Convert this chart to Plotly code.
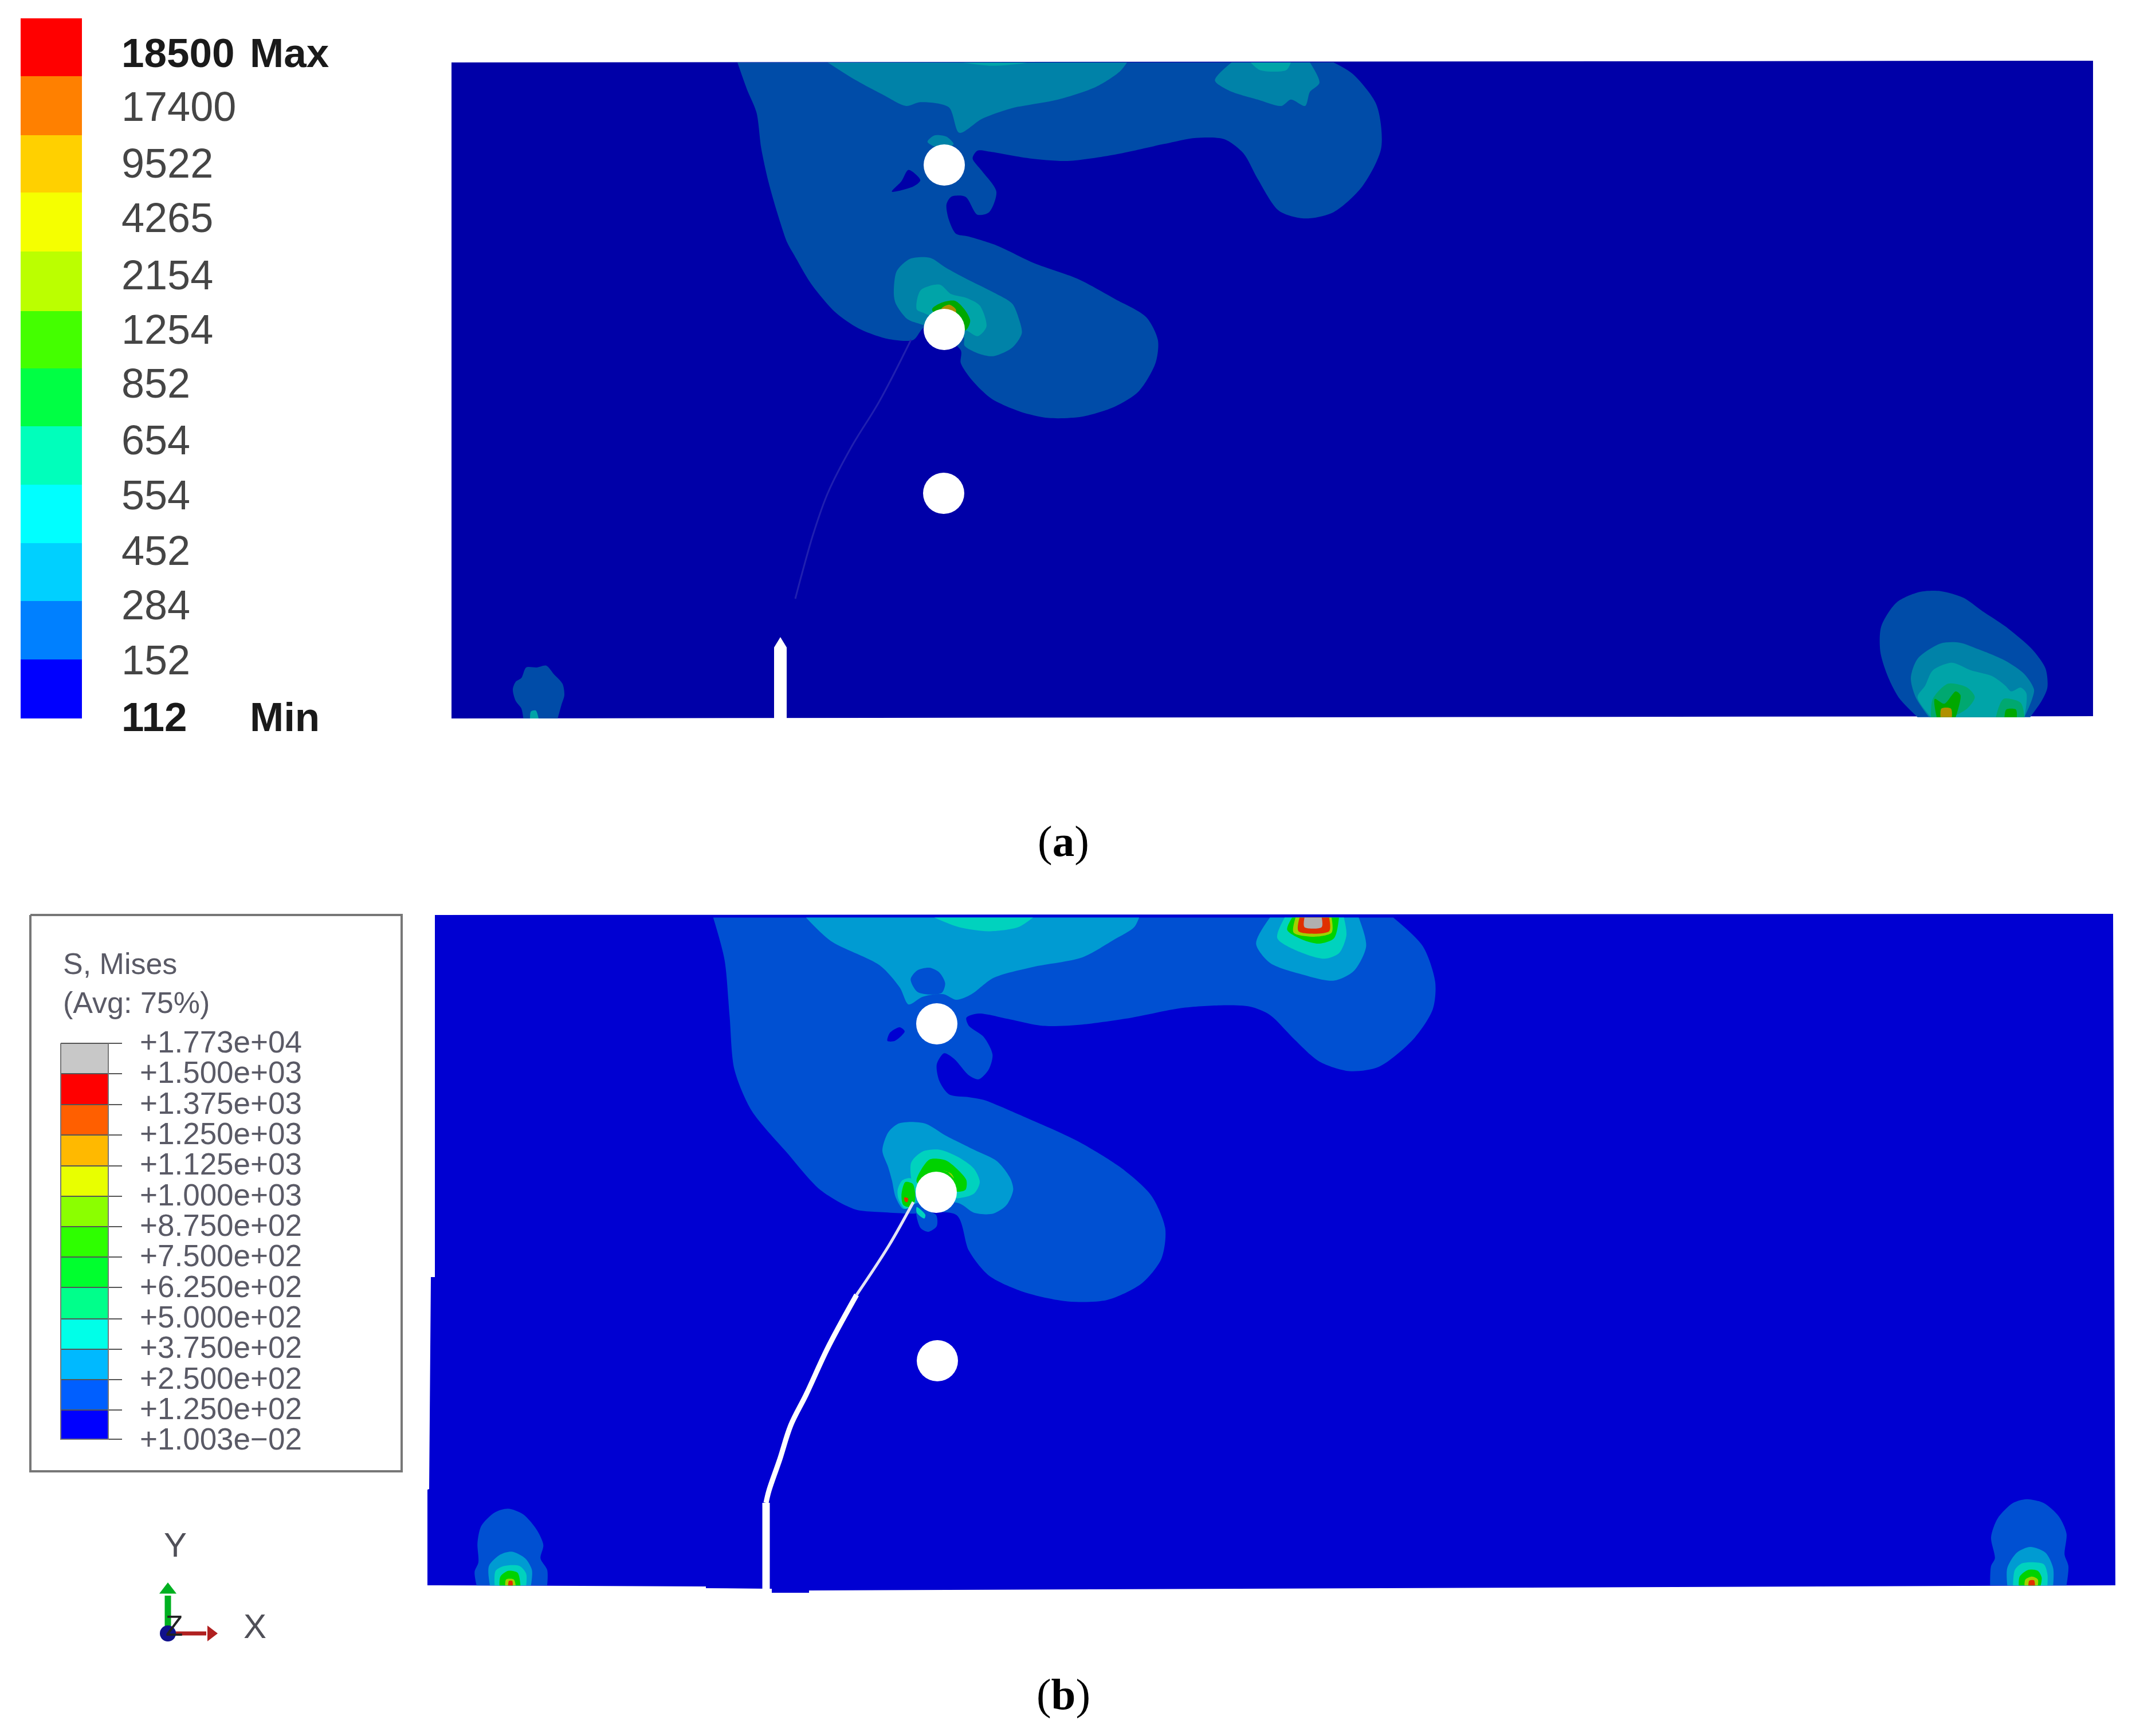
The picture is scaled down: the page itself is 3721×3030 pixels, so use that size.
#!/usr/bin/env python3
''' Two FE stress plots of a cracked plate with three holes (a, b).'''

import plotly.graph_objects as go

W, H = 3721, 3030

# Colour bar (a)
bar_a_labels = ['17400', '9522', '4265', '2154', '1254', '852', '654', '554', '452', '284', '152']
bar_a_label_y = [187, 286, 381, 481, 576, 670, 769, 865, 962, 1057, 1153]
bar_a_edges = [32, 133, 236, 336, 439, 543, 643, 744, 846, 948, 1049, 1151, 1254]
bar_a_colors = ['#FF0000', '#FF8000', '#FFD000', '#F5FF00', '#BBFF00', '#44FF00',
                '#00FF44', '#00FFBB', '#00FFFF', '#00D0FF', '#0080FF', '#0000FF']

# Colour bar (b)
bar_b_labels = ['+1.773e+04', '+1.500e+03', '+1.375e+03', '+1.250e+03', '+1.125e+03',
                '+1.000e+03', '+8.750e+02', '+7.500e+02', '+6.250e+02', '+5.000e+02',
                '+3.750e+02', '+2.500e+02', '+1.250e+02', '+1.003e\u221202']
bar_b_edges = [1821, 1874, 1928, 1981, 2035, 2088, 2141, 2194, 2247, 2302, 2355, 2408, 2461, 2512]
bar_b_label_y = [1818, 1871, 1925, 1978, 2031, 2085, 2138, 2191, 2245, 2298, 2351, 2405, 2458, 2511]
bar_b_colors = ['#C8C8C8', '#FF0000', '#FF5F00', '#FFB900', '#E8FF00', '#8BFF00', '#2EFF00',
                '#00FF2E', '#00FF8B', '#00FFE8', '#00B9FF', '#005FFF', '#0000FF']

# Contour colours
A = {'base': '#0000A8', 'l1': '#004CA8', 'l2': '#0082A8', 'l3': '#00A4A8',
     'l4': '#00A870', 'green': '#00A800', 'orange': '#B09000'}
B = {'base': '#0000D2', 'l1': '#0050D2', 'l2': '#009BD2', 'l3': '#00D2BE',
     'green': '#00D200', 'lime': '#A0D200', 'orange': '#E09000', 'red': '#E03000', 'grey': '#B0B0B0'}

# Plate outlines, picture pixels
plate_a = [(788, 109), (3653, 106), (3653, 1250), (788, 1254)]
plate_b = [(759, 1597), (3688, 1595), (3692, 2767), (1412, 2776), (1412, 2780), (1347, 2780), (1347, 2773),
           (1232, 2772), (1232, 2769), (746, 2767), (746, 2600), (749, 2599), (752, 2229), (759, 2229)]

# Holes, picture pixels
holes_x = [1648, 1648, 1647, 1635, 1634, 1636]
holes_y = [288, 575, 861, 1787, 2081, 2375]

# Crack paths
crack_a_x = [1590, 1535, 1486, 1445, 1420, 1400, 1388]
crack_a_y = [593, 700, 780, 860, 930, 1000, 1045]
notch_a = [(1351, 1254), (1351, 1130), (1362, 1112), (1373, 1130), (1373, 1254)]
crack_b_thin_x = [1594, 1552, 1495]
crack_b_thin_y = [2098, 2173, 2260]
crack_b_mid_x = [1495, 1445, 1407, 1380, 1361, 1342, 1337]
crack_b_mid_y = [2260, 2352, 2434, 2488, 2547, 2602, 2623]
crack_b_low_x = [1337, 1337]
crack_b_low_y = [2623, 2782]

CROP_A = (1200, 80, 1.206, 2.24)
CROP_A_HOLE = (1500, 400, 3, 3)
CROP_A_RIGHT = (3200, 980, 3, 3)
CROP_A_LEFT = (860, 1130, 3, 3)
CROP_B = (1200, 1580, 1.161, 2.09)
CROP_B_HOLE = (1500, 1920, 3, 3)
CROP_B_LEFT = (740, 2560, 3, 3)
CROP_B_RIGHT = (3380, 2560, 3, 3)

a_main = [(105, 65), (125, 170), (145, 260), (155, 400), (170, 530), (190, 660), (210, 770), (225, 820),
          (260, 930), (310, 1040), (360, 1105), (420, 1145), (475, 1150), (500, 1100), (575, 1190), (575, 1240),
          (600, 1310), (640, 1380), (700, 1430), (760, 1455), (830, 1450), (900, 1410), (950, 1350), (985, 1240),
          (990, 1150), (965, 1060), (900, 990), (820, 910), (730, 850), (650, 780), (590, 745), (565, 735),
          (550, 680), (545, 620), (555, 590), (585, 590), (610, 660), (635, 650), (650, 570), (620, 490),
          (600, 440), (610, 410), (640, 415), (720, 440), (800, 450), (900, 425), (1000, 385), (1070, 360),
          (1130, 365), (1170, 420), (1200, 520), (1245, 645), (1300, 675), (1360, 650), (1420, 550), (1460, 400),
          (1450, 230), (1400, 110), (1360, 65)]
a_wedge = [(465, 485), (490, 525), (475, 550), (430, 570), (450, 530)]
a_top_l2 = [(295, 65), (350, 130), (410, 190), (460, 235), (490, 220), (550, 240), (572, 340), (620, 285),
            (680, 245), (780, 210), (860, 160), (910, 100), (925, 65)]
a_top_l3 = [(578, 65), (640, 78), (700, 70), (715, 65)]
a_cap_l2 = [(505, 375), (520, 350), (545, 355), (560, 385), (530, 400)]
a_right_l2 = [(1145, 65), (1110, 135), (1140, 175), (1200, 210), (1250, 235), (1270, 210), (1300, 235),
              (1310, 180), (1330, 145), (1310, 65)]
a_right_l3 = [(1185, 65), (1205, 95), (1260, 95), (1270, 65)]

a_hole_l2 = [(265, 155), (370, 150), (450, 200), (560, 260), (700, 330), (800, 390), (835, 470), (850, 545),
             (800, 620), (700, 665), (620, 650), (550, 610), (545, 560), (330, 500), (250, 470), (190, 390),
             (180, 340), (195, 220)]
a_hole_l3 = [(320, 320), (420, 290), (480, 340), (560, 360), (630, 400), (665, 510), (620, 560), (560, 530),
             (340, 440), (300, 420)]
a_hole_green = [(380, 420), (430, 385), (500, 375), (550, 420), (580, 480), (555, 530), (440, 480)]
a_hole_orange = [(430, 415), (470, 395), (505, 420), (500, 450), (440, 450)]

a_br_l1 = [(440, 815), (340, 710), (280, 590), (245, 470), (250, 340), (330, 215), (450, 160), (560, 155),
           (680, 190), (780, 260), (900, 340), (1040, 460), (1110, 560), (1120, 660), (1090, 730), (1030, 815)]
a_br_l2 = [(500, 815), (430, 710), (405, 610), (440, 510), (560, 430), (660, 425), (760, 460), (900, 520),
           (1000, 590), (1050, 670), (1040, 720), (1000, 815)]
a_br_l3 = [(510, 815), (440, 710), (480, 650), (520, 570), (620, 530), (720, 570), (830, 600), (900, 650),
           (930, 680), (980, 660), (1010, 690), (1000, 815)]
a_br_l4_left = [(510, 815), (520, 720), (600, 640), (700, 660), (740, 710), (700, 770), (620, 815)]
a_br_l4_right = [(850, 815), (890, 720), (980, 740), (1000, 815)]
a_br_green_left = [(540, 815), (530, 720), (580, 745), (640, 680), (665, 700), (640, 815)]
a_br_green_right = [(895, 815), (905, 775), (955, 775), (960, 815)]
a_br_orange = [(560, 815), (565, 770), (615, 770), (620, 815)]

a_bl_l1 = [(160, 372), (150, 320), (120, 280), (105, 220), (120, 180), (150, 160), (175, 105), (230, 105),
           (280, 95), (320, 140), (365, 190), (375, 250), (360, 300), (340, 372)]
a_bl_l2 = [(195, 372), (200, 335), (225, 330), (240, 372)]

b_main = [(52, 45), (75, 200), (85, 400), (95, 600), (130, 750), (200, 900), (270, 1040), (340, 1110),
          (400, 1120), (450, 1125), (545, 1130), (570, 1260), (610, 1350), (680, 1410), (770, 1445), (850, 1440),
          (920, 1380), (960, 1290), (968, 1180), (940, 1060), (880, 960), (790, 860), (680, 770), (600, 710),
          (570, 700), (530, 690), (510, 640), (505, 580), (520, 540), (540, 560), (570, 620), (590, 635),
          (610, 600), (618, 545), (600, 480), (570, 440), (565, 410), (590, 395), (650, 415), (720, 440),
          (800, 435), (900, 410), (1000, 375), (1080, 365), (1140, 370), (1180, 400), (1230, 490), (1280, 570),
          (1340, 605), (1400, 590), (1470, 490), (1510, 380), (1515, 280), (1490, 150), (1430, 45)]
b_wedge = [(430, 445), (440, 460), (420, 495), (405, 495), (410, 465)]
b_top_l2 = [(240, 45), (290, 130), (390, 220), (430, 300), (448, 362), (475, 335), (500, 325), (520, 325),
            (545, 345), (575, 325), (620, 265), (700, 225), (800, 190), (860, 130), (905, 80), (915, 45)]
b_island = [(452, 270), (465, 238), (490, 228), (510, 245), (522, 285), (515, 320), (485, 325), (465, 315)]
b_top_l3 = [(500, 45), (550, 80), (610, 95), (670, 80), (700, 45)]
b_right_l2 = [(1180, 45), (1152, 140), (1180, 210), (1240, 250), (1310, 275), (1350, 240), (1375, 150), (1360, 45)]
b_right_l3 = [(1210, 45), (1195, 120), (1240, 170), (1290, 195), (1320, 175), (1335, 110), (1330, 45)]
b_right_green = [(1225, 45), (1215, 90), (1245, 125), (1280, 140), (1310, 120), (1320, 45)]
b_right_lime = [(1232, 45), (1228, 100), (1270, 115), (1305, 100), (1305, 45)]
b_right_red = [(1240, 45), (1238, 95), (1300, 95), (1300, 45)]
b_right_grey = [(1250, 45), (1250, 80), (1285, 80), (1285, 45)]

b_hole_below = [(300, 580), (400, 600), (405, 660), (360, 690), (320, 670)]
b_hole_l2 = [(270, 115), (350, 125), (450, 185), (600, 260), (720, 320), (790, 410), (805, 470), (770, 550),
             (700, 595), (600, 590), (520, 540), (300, 540), (230, 570), (190, 510), (170, 420), (150, 350),
             (120, 265), (150, 170), (200, 125)]
b_hole_l3 = [(270, 330), (330, 270), (420, 260), (520, 300), (600, 360), (630, 430), (600, 490), (510, 515),
             (300, 490)]
b_hole_l3_left = [(200, 470), (225, 420), (270, 410), (290, 480), (290, 540), (240, 570), (205, 520)]
b_hole_l3_low = [(300, 560), (345, 600), (340, 620), (300, 590)]
b_hole_green = [(320, 370), (370, 310), (450, 315), (510, 360), (560, 420), (555, 470), (510, 480), (300, 430)]
b_hole_green_left = [(220, 500), (240, 430), (280, 440), (290, 530), (260, 560), (230, 550)]
b_hole_lime = [(440, 370), (480, 385), (495, 410), (460, 375)]
b_hole_red = [(235, 510), (255, 515), (250, 535), (238, 530)]

b_bl_l1 = [(275, 622), (265, 550), (285, 500), (280, 400), (300, 310), (370, 240), (440, 220), (520, 250),
           (590, 330), (625, 410), (610, 480), (645, 540), (645, 622)]
b_bl_l2 = [(345, 622), (340, 520), (400, 460), (460, 445), (530, 480), (565, 540), (560, 622)]
b_bl_l3 = [(370, 622), (375, 545), (420, 520), (500, 520), (535, 560), (535, 622)]
b_bl_green = [(395, 622), (400, 575), (440, 545), (490, 555), (505, 622)]
b_bl_lime = [(425, 622), (430, 590), (470, 590), (480, 622)]
b_bl_red = [(440, 622), (445, 598), (462, 598), (465, 622)]

b_br_l1 = [(280, 622), (285, 520), (305, 480), (285, 370), (320, 270), (400, 190), (470, 170), (560, 190),
           (640, 260), (680, 350), (670, 460), (690, 520), (680, 622)]
b_br_l2 = [(370, 622), (370, 530), (420, 450), (490, 420), (570, 450), (610, 530), (610, 622)]
b_br_l3 = [(400, 622), (410, 540), (450, 505), (560, 510), (580, 560), (580, 622)]
b_br_green = [(430, 622), (435, 575), (480, 540), (530, 545), (550, 580), (545, 622)]
b_br_lime = [(460, 622), (465, 590), (500, 575), (530, 590), (530, 622)]
b_br_red = [(480, 622), (485, 597), (510, 595), (515, 622)]

fig = go.Figure()


def area(points, color, crop=None):
    ''' Filled patch; crop turns zoom readings into picture pixels and smooths the outline.'''
    if crop is None:
        xs = [p[0] for p in points]
        ys = [p[1] for p in points]
        shape = 'linear'
    else:
        left, top, sx, sy = crop
        xs = [left + p[0] / sx for p in points]
        ys = [top + p[1] / sy for p in points]
        shape = 'spline'
    # patches standing on a plate edge stay open, toself closes them straight
    if ys[0] != ys[-1]:
        xs = xs + xs[:1]
        ys = ys + ys[:1]
    fig.add_trace(go.Scatter(x=xs, y=ys, mode='lines', fill='toself', fillcolor=color,
                             line=dict(width=0, shape=shape, smoothing=0.8), hoverinfo='skip'))


def line(xs, ys, color, width, shape='linear'):
    fig.add_trace(go.Scatter(x=xs, y=ys, mode='lines', hoverinfo='skip', connectgaps=False,
                             line=dict(color=color, width=width, shape=shape)))


def label(xs, ys, texts, size, color, family='Liberation Sans', position='middle right', dy=6):
    fig.add_trace(go.Scatter(x=xs, y=[y + dy for y in ys], text=texts, mode='text', textposition=position,
                             hoverinfo='skip', textfont=dict(size=size, color=color, family=family)))


def colorbar(center, width, edges, colors):
    fig.add_trace(go.Bar(x=[center] * len(colors), width=[width] * len(colors), base=edges[:-1],
                         y=[b - t for t, b in zip(edges[:-1], edges[1:])],
                         marker=dict(color=colors, line=dict(width=0)), hoverinfo='skip'))


# Panel (a)
area(plate_a, A['base'])
area(a_main, A['l1'], CROP_A)
area(a_wedge, A['base'], CROP_A)
area(a_top_l2, A['l2'], CROP_A)
area(a_top_l3, A['l3'], CROP_A)
area(a_cap_l2, A['l2'], CROP_A)
area(a_right_l2, A['l2'], CROP_A)
area(a_right_l3, A['l3'], CROP_A)
area(a_hole_l2, A['l2'], CROP_A_HOLE)
area(a_hole_l3, A['l3'], CROP_A_HOLE)
area(a_hole_green, A['green'], CROP_A_HOLE)
area(a_hole_orange, A['orange'], CROP_A_HOLE)
area(a_br_l1, A['l1'], CROP_A_RIGHT)
area(a_br_l2, A['l2'], CROP_A_RIGHT)
area(a_br_l3, A['l3'], CROP_A_RIGHT)
area(a_br_l4_left, A['l4'], CROP_A_RIGHT)
area(a_br_l4_right, A['l4'], CROP_A_RIGHT)
area(a_br_green_left, A['green'], CROP_A_RIGHT)
area(a_br_green_right, A['green'], CROP_A_RIGHT)
area(a_br_orange, A['orange'], CROP_A_RIGHT)
area(a_bl_l1, A['l1'], CROP_A_LEFT)
area(a_bl_l2, A['l3'], CROP_A_LEFT)
line(crack_a_x, crack_a_y, '#2020B0', 3, 'spline')
area(notch_a, '#FFFFFF')

# Panel (b)
area(plate_b, B['base'])
area(b_main, B['l1'], CROP_B)
area(b_wedge, B['base'], CROP_B)
area(b_top_l2, B['l2'], CROP_B)
area(b_island, B['l1'], CROP_B)
area(b_top_l3, B['l3'], CROP_B)
area(b_right_l2, B['l2'], CROP_B)
area(b_right_l3, B['l3'], CROP_B)
area(b_right_green, B['green'], CROP_B)
area(b_right_lime, B['lime'], CROP_B)
area(b_right_red, B['red'], CROP_B)
area(b_right_grey, B['grey'], CROP_B)
area(b_hole_below, B['l1'], CROP_B_HOLE)
area(b_hole_l2, B['l2'], CROP_B_HOLE)
area(b_hole_l3, B['l3'], CROP_B_HOLE)
area(b_hole_l3_left, B['l3'], CROP_B_HOLE)
area(b_hole_l3_low, B['l3'], CROP_B_HOLE)
area(b_hole_green, B['green'], CROP_B_HOLE)
area(b_hole_green_left, B['green'], CROP_B_HOLE)
area(b_hole_lime, B['lime'], CROP_B_HOLE)
area(b_hole_red, B['red'], CROP_B_HOLE)
for patch, key in [(b_bl_l1, 'l1'), (b_bl_l2, 'l2'), (b_bl_l3, 'l3'), (b_bl_green, 'green'),
                   (b_bl_lime, 'lime'), (b_bl_red, 'red')]:
    area(patch, B[key], CROP_B_LEFT)
for patch, key in [(b_br_l1, 'l1'), (b_br_l2, 'l2'), (b_br_l3, 'l3'), (b_br_green, 'green'),
                   (b_br_lime, 'lime'), (b_br_red, 'red')]:
    area(patch, B[key], CROP_B_RIGHT)
line(crack_b_thin_x, crack_b_thin_y, '#E4E4F4', 5, 'spline')
line(crack_b_mid_x, crack_b_mid_y, '#FFFFFF', 9, 'spline')
line(crack_b_low_x, crack_b_low_y, '#FFFFFF', 13)

# Holes over everything
fig.add_trace(go.Scatter(x=holes_x, y=holes_y, mode='markers', hoverinfo='skip',
                         marker=dict(color='#FFFFFF', size=72, line=dict(width=0))))

# Legend (a)
colorbar(89.5, 107, bar_a_edges, bar_a_colors)
label([212] * len(bar_a_labels), bar_a_label_y, bar_a_labels, 72, '#454545')
label([212, 436], [93, 93], ['<b>18500</b>', '<b>Max</b>'], 71, '#1A1A1A')
label([212, 436], [1252, 1252], ['<b>112</b>', '<b>Min</b>'], 71, '#1A1A1A')

# Legend (b)
line([53, 701, 701, 53, 53], [1597, 1597, 2568, 2568, 1597], '#777777', 4)
colorbar(147.5, 83, bar_b_edges, bar_b_colors)
tick_x, tick_y = [], []
for edge in bar_b_edges:
    tick_x += [106, 213, None]
    tick_y += [edge, edge, None]
line(tick_x, tick_y, '#555555', 2)
line([106, 106, 189, 189], [1821, 2512, 2512, 1821], '#777777', 2)
label([244] * len(bar_b_labels), bar_b_label_y, bar_b_labels, 53, '#5A5A66')
label([110, 110], [1681, 1749], ['S, Mises', '(Avg: 75%)'], 52, '#5A5A66')

# Axis triad
line([293, 293], [2851, 2785], '#00B020', 11)
line([293, 360], [2851, 2851], '#B02020', 7)
fig.add_trace(go.Scatter(x=[293], y=[2775], mode='markers', hoverinfo='skip',
                         marker=dict(symbol='triangle-up', color='#00B020', size=26, line=dict(width=0))))
fig.add_trace(go.Scatter(x=[368], y=[2851], mode='markers', hoverinfo='skip',
                         marker=dict(symbol='triangle-right', color='#B02020', size=24, line=dict(width=0))))
fig.add_trace(go.Scatter(x=[293], y=[2851], mode='markers', hoverinfo='skip',
                         marker=dict(color='#10108C', size=28, line=dict(width=0))))
label([306, 445], [2696, 2838], ['Y', 'X'], 60, '#505058', position='middle center')
label([304], [2836], ['Z'], 50, '#222222', position='middle center')

# Captions
label([1856, 1856], [1475, 2964], ['(<b>a</b>)', '(<b>b</b>)'], 77, '#000000',
      family='Liberation Serif', position='middle center', dy=0)

fig.update_layout(
    width=W, height=H, margin=dict(l=0, r=0, t=0, b=0),
    paper_bgcolor='#FFFFFF', plot_bgcolor='#FFFFFF',
    showlegend=False, barmode='overlay',
    xaxis=dict(range=[0, W], visible=False, fixedrange=True),
    yaxis=dict(range=[H, 0], visible=False, fixedrange=True),
)

fig.write_html("out.html", config={'displayModeBar': False},
               post_script="document.body.style.margin='0';")
